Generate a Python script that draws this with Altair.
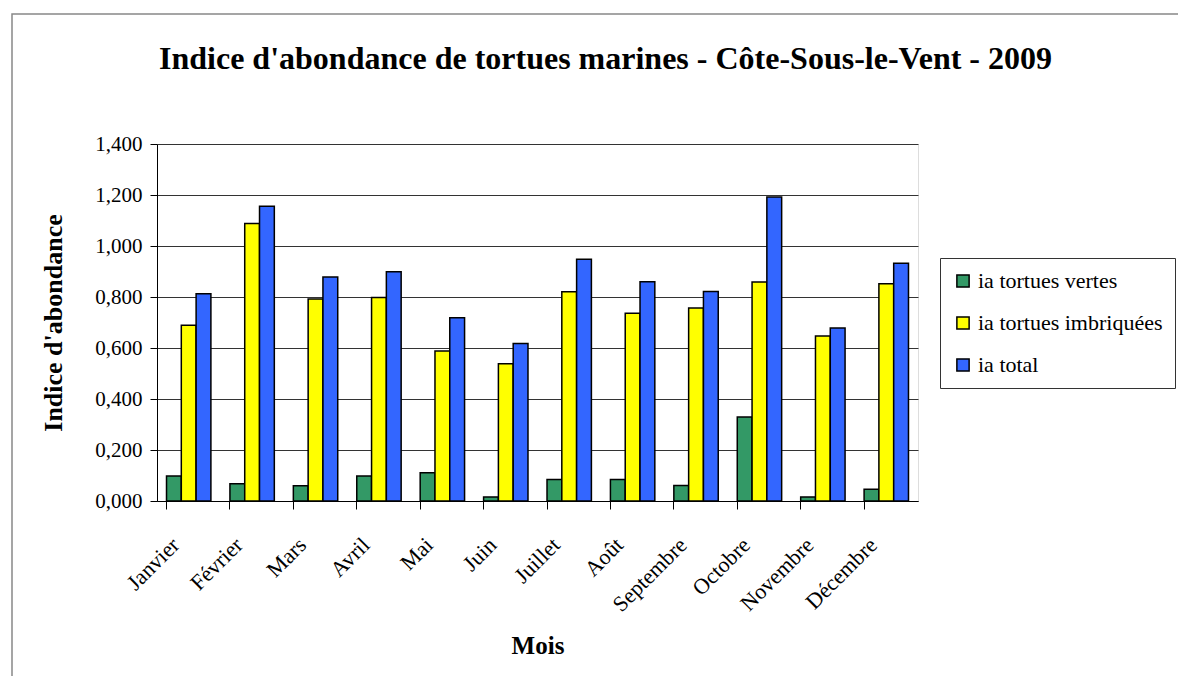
import altair as alt
import pandas as pd

mois = ["Janvier", "Février", "Mars", "Avril", "Mai", "Juin", "Juillet",
        "Août", "Septembre", "Octobre", "Novembre", "Décembre"]
series = ["ia tortues vertes", "ia tortues imbriquées", "ia total"]
vertes = [0.098, 0.068, 0.060, 0.098, 0.111, 0.016, 0.084, 0.084, 0.061, 0.329, 0.016, 0.046]
imbriquees = [0.689, 1.088, 0.792, 0.798, 0.588, 0.538, 0.821, 0.736, 0.757, 0.859, 0.647, 0.852]
total = [0.813, 1.156, 0.878, 0.899, 0.719, 0.618, 0.948, 0.860, 0.822, 1.192, 0.678, 0.932]
colors = ["#339966", "#FFFF00", "#3366FF"]
y_ticks = [0, 0.2, 0.4, 0.6, 0.8, 1.0, 1.2, 1.4]

rows = []
for i, m in enumerate(mois):
    for s, vals in zip(series, [vertes, imbriquees, total]):
        rows.append({"Mois": m, "Série": s, "Valeur": vals[i]})
df = pd.DataFrame(rows)

FONT = "Liberation Serif"

bars = alt.Chart(df).mark_bar(stroke="black", strokeWidth=1.5).encode(
    x=alt.X("Mois:N", sort=mois,
            scale=alt.Scale(paddingInner=0.3, paddingOuter=0.15),
            axis=alt.Axis(title="Mois", labelAngle=-45, bandPosition=0,
                          labelFontSize=22, labelFont=FONT, labelColor="black",
                          labelPadding=25, labelOffset=-20, tickSize=8, tickColor="black",
                          domainColor="black", grid=False,
                          titleFont=FONT, titleFontSize=25, titleFontWeight="bold",
                          titleColor="black", titlePadding=18)),
    xOffset=alt.XOffset("Série:N", sort=series),
    y=alt.Y("Valeur:Q", scale=alt.Scale(domain=[0, 1.4], nice=False),
            axis=alt.Axis(title="Indice d'abondance", values=y_ticks,
                          labelExpr="replace(format(datum.value, '.3f'), '.', ',')",
                          labelFontSize=21, labelFont=FONT, labelColor="black",
                          labelPadding=8, tickSize=7, tickColor="black",
                          domainColor="black", gridColor="#333333", gridWidth=1,
                          titleFont=FONT, titleFontSize=26, titleFontWeight="bold",
                          titleColor="black", titlePadding=28)),
    color=alt.Color("Série:N", sort=series,
                    scale=alt.Scale(domain=series, range=colors),
                    legend=alt.Legend(title=None, orient="none", legendX=783, legendY=114,
                                      symbolType="square", symbolSize=150,
                                      symbolStrokeColor="black", symbolStrokeWidth=1.5,
                                      labelFont=FONT, labelFontSize=22, labelColor="black",
                                      rowPadding=20, padding=12,
                                      strokeColor="#333333", fillColor="white",
                                      labelLimit=300)),
)

border = alt.Chart(pd.DataFrame({"a": [0]})).mark_rect(
    fill=None, stroke="#888888", strokeWidth=1.5, clip=False
).encode(x=alt.value(-145), x2=alt.value(1040), y=alt.value(-130), y2=alt.value(540))

chart = alt.layer(border, bars).properties(
    width=761, height=357,
    title=alt.TitleParams("Indice d'abondance de tortues marines - Côte-Sous-le-Vent - 2009",
                          font=FONT, fontSize=32, fontWeight="bold", color="black",
                          anchor="middle", frame="group", offset=-63, dx=68),
    autosize=alt.AutoSizeParams(type="none"),
    padding={"left": 149, "top": 136, "right": 260, "bottom": 175},
).configure_view(fill="#C0C0C0", stroke="#808080", strokeWidth=1.5
).configure(background="white")

chart.save("out.html", embed_options={"renderer": "svg", "actions": False})
